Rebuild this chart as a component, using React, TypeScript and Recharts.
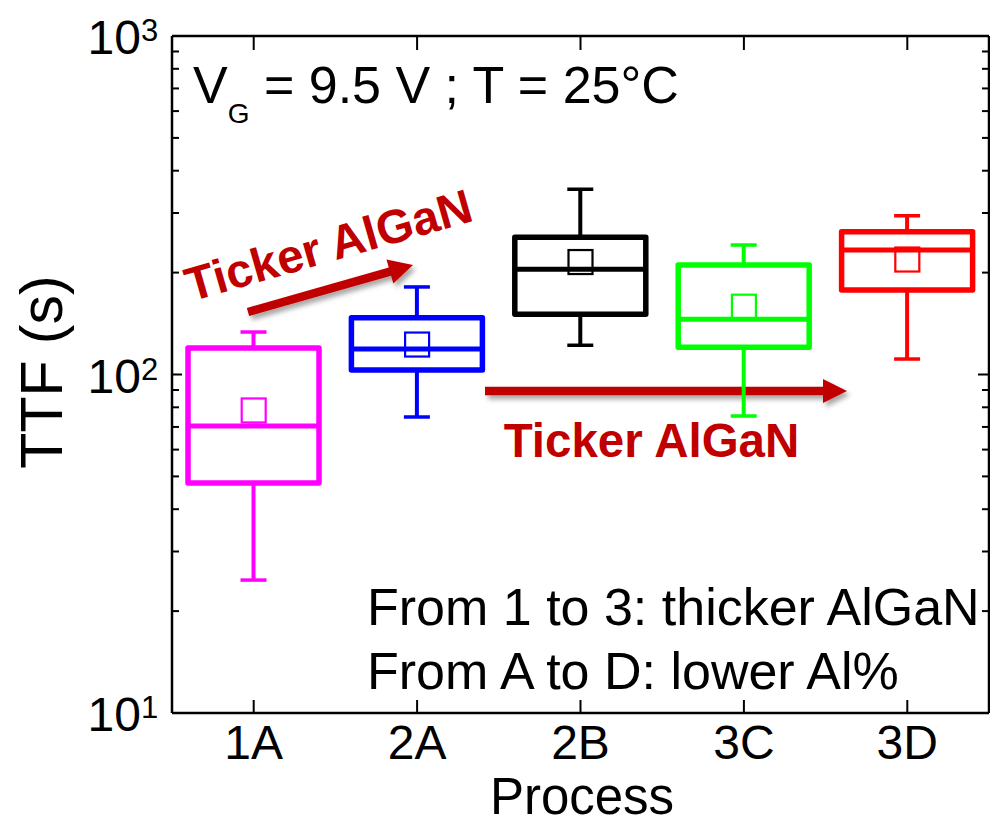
import React from 'react';
import { ComposedChart, Bar, Scatter, XAxis, YAxis, Customized } from 'recharts';

// Time-to-failure distribution per process (seconds)
const processes = ['1A', '2A', '2B', '3C', '3D'];
const whiskerLow = [24.7, 74.9, 122.0, 75.4, 111.1];
const quartile1 = [47.8, 103.1, 150.6, 120.3, 177.7];
const medians = [70.5, 119.0, 204.6, 145.6, 233.2];
const quartile3 = [119.8, 147.0, 254.3, 210.6, 264.2];
const whiskerHigh = [133.5, 181.4, 352.4, 241.3, 294.5];
const means = [78.3, 122.6, 214.9, 158.6, 218.6];
const boxColors = ['#ff00ff', '#0000ff', '#000000', '#00ff00', '#ff0000'];

const yTicks = [
  10, 20, 30, 40, 50, 60, 70, 80, 90,
  100, 200, 300, 400, 500, 600, 700, 800, 900,
  1000,
];

const FONT = '"Liberation Sans", Arial, Helvetica, sans-serif';
const ARROW_RED = '#c00000';
const BOX_WIDTH = 131;

const rows = processes.map((name, i) => ({
  name,
  whisker: [whiskerLow[i], whiskerHigh[i]],
  box: [quartile1[i], quartile3[i]],
  median: medians[i],
  mean: means[i],
  color: boxColors[i],
}));

const isDecade = (v: number) => {
  const e = Math.log10(v);
  return Math.abs(e - Math.round(e)) < 1e-6;
};

const LeftTick = (props: any) => {
  const { x, y, payload } = props;
  const v = payload.value;
  const major = isDecade(v);
  return (
    <g>
      <line x1={x} x2={x + (major ? 10 : 7)} y1={y} y2={y} stroke="#000" strokeWidth={2} />
      {major && (
        <text x={x - 31} y={y + 18} textAnchor="end" fontSize={48} fontFamily={FONT} fill="#000">
          10
        </text>
      )}
      {major && (
        <text x={x - 31} y={y + 5} textAnchor="start" fontSize={31} fontFamily={FONT} fill="#000">
          {Math.round(Math.log10(v))}
        </text>
      )}
    </g>
  );
};

const RightTick = (props: any) => {
  const { x, y, payload } = props;
  const major = isDecade(payload.value);
  return <line x1={x} x2={x - (major ? 11 : 7)} y1={y} y2={y} stroke="#000" strokeWidth={2} />;
};

const BottomTick = (props: any) => {
  const { x, y, payload } = props;
  return (
    <g>
      <line x1={x} x2={x} y1={y} y2={y - 13} stroke="#000" strokeWidth={2} />
      <text x={x} y={y + 46} textAnchor="middle" fontSize={48} fontFamily={FONT} fill="#000">
        {payload.value}
      </text>
    </g>
  );
};

const TopTick = (props: any) => {
  const { x, y } = props;
  return <line x1={x} x2={x} y1={y} y2={y + 14} stroke="#000" strokeWidth={2} />;
};

const WhiskerShape = (props: any) => {
  const { x, y, width, height, payload } = props;
  const cx = x + width / 2;
  const c = payload.color;
  return (
    <g>
      <line x1={cx} x2={cx} y1={y} y2={y + height} stroke={c} strokeWidth={4} />
      <line x1={cx - 13} x2={cx + 13} y1={y} y2={y} stroke={c} strokeWidth={3.5} />
      <line x1={cx - 13} x2={cx + 13} y1={y + height} y2={y + height} stroke={c} strokeWidth={3.5} />
    </g>
  );
};

const BoxShape = (props: any) => {
  const { x, y, width, height, payload } = props;
  return (
    <rect
      x={x}
      y={y}
      width={width}
      height={height}
      fill="#fff"
      stroke={payload.color}
      strokeWidth={5.5}
      strokeLinejoin="round"
    />
  );
};

const MedianShape = (props: any) => {
  const { cx, cy, payload } = props;
  return (
    <line
      x1={cx - BOX_WIDTH / 2}
      x2={cx + BOX_WIDTH / 2}
      y1={cy}
      y2={cy}
      stroke={payload.color}
      strokeWidth={5}
    />
  );
};

const MeanShape = (props: any) => {
  const { cx, cy, payload } = props;
  return (
    <rect x={cx - 12} y={cy - 12} width={24} height={24} fill="none" stroke={payload.color} strokeWidth={2.2} />
  );
};

// Polygon outline for a block arrow from (x1,y1) to the tip (x2,y2)
function arrowPoints(x1: number, y1: number, x2: number, y2: number, shaft: number, headLen: number, headHalf: number) {
  const dx = x2 - x1;
  const dy = y2 - y1;
  const len = Math.hypot(dx, dy);
  const ux = dx / len;
  const uy = dy / len;
  const nx = -uy;
  const ny = ux;
  const bx = x2 - ux * headLen;
  const by = y2 - uy * headLen;
  const s = shaft / 2;
  const pts = [
    [x1 + nx * s, y1 + ny * s],
    [bx + nx * s, by + ny * s],
    [bx + nx * headHalf, by + ny * headHalf],
    [x2, y2],
    [bx - nx * headHalf, by - ny * headHalf],
    [bx - nx * s, by - ny * s],
    [x1 - nx * s, y1 - ny * s],
  ];
  return pts.map((p) => `${p[0].toFixed(1)},${p[1].toFixed(1)}`).join(' ');
}

const Annotations = () => (
  <g>
    <defs>
      <filter id="arrowShadow" x="-20%" y="-50%" width="140%" height="250%">
        <feDropShadow dx="3" dy="4" stdDeviation="2.5" floodColor="#000" floodOpacity="0.35" />
      </filter>
    </defs>

    {/* bias condition */}
    <text x={193} y={103} fontSize={52} fontFamily={FONT} fill="#000">
      V
      <tspan dy={20} fontSize={28}>G</tspan>
      <tspan dy={-20} fontSize={52}>{' = 9.5 V ; T = 25°C'}</tspan>
    </text>

    {/* process legend notes */}
    <text x={367} y={625} fontSize={52} fontFamily={FONT} fill="#000">
      From 1 to 3: thicker AlGaN
    </text>
    <text x={367} y={689} fontSize={52} fontFamily={FONT} fill="#000">
      From A to D: lower Al%
    </text>

    {/* arrows */}
    <polygon points={arrowPoints(248, 312, 413, 265, 8.5, 24, 12.5)} fill={ARROW_RED} filter="url(#arrowShadow)" />
    <text
      x={333}
      y={261}
      textAnchor="middle"
      fontSize={47.5}
      fontWeight="bold"
      fontFamily={FONT}
      fill={ARROW_RED}
      transform="rotate(-16 333 261)"
    >
      Ticker AlGaN
    </text>

    <polygon points={arrowPoints(485, 391, 847, 391, 8.5, 24, 12)} fill={ARROW_RED} filter="url(#arrowShadow)" />
    <text x={651.5} y={457} textAnchor="middle" fontSize={47.5} fontWeight="bold" fontFamily={FONT} fill={ARROW_RED}>
      Ticker AlGaN
    </text>

    {/* axis titles */}
    <text x={582} y={814} textAnchor="middle" fontSize={51} fontFamily={FONT} fill="#000">
      Process
    </text>
    <text
      x={62}
      y={372}
      textAnchor="middle"
      fontSize={59}
      fontFamily={FONT}
      fill="#000"
      transform="rotate(-90 62 372)"
    >
      TTF (s)
    </text>
  </g>
);

const axisLine = { stroke: '#000', strokeWidth: 2.5 };

export default function App() {
  return (
    <div style={{ position: 'absolute', left: 0, top: 0, width: 990, height: 826, background: '#fff' }}>
      <ComposedChart width={990} height={826} data={rows} margin={{ top: 35, right: 0, bottom: 0, left: 0 }}>
        <XAxis
          xAxisId="bottom"
          dataKey="name"
          height={113}
          interval={0}
          tickSize={0}
          tickMargin={0}
          tickLine={false}
          axisLine={axisLine}
          tick={BottomTick}
        />
        <XAxis
          xAxisId="top"
          dataKey="name"
          orientation="top"
          height={1}
          interval={0}
          tickSize={0}
          tickMargin={0}
          tickLine={false}
          axisLine={axisLine}
          tick={TopTick}
        />
        <YAxis
          yAxisId="left"
          type="number"
          scale="log"
          domain={[10, 1000]}
          allowDataOverflow
          ticks={yTicks}
          interval={0}
          width={172}
          tickSize={0}
          tickMargin={0}
          tickLine={false}
          axisLine={axisLine}
          tick={LeftTick}
        />
        <YAxis
          yAxisId="right"
          orientation="right"
          type="number"
          scale="log"
          domain={[10, 1000]}
          allowDataOverflow
          ticks={yTicks}
          interval={0}
          width={1}
          tickSize={0}
          tickMargin={0}
          tickLine={false}
          axisLine={axisLine}
          tick={RightTick}
        />
        <Bar
          xAxisId="top"
          yAxisId="left"
          dataKey="whisker"
          barSize={BOX_WIDTH}
          shape={WhiskerShape}
          isAnimationActive={false}
        />
        <Bar
          xAxisId="bottom"
          yAxisId="left"
          dataKey="box"
          barSize={BOX_WIDTH}
          shape={BoxShape}
          isAnimationActive={false}
        />
        <Scatter xAxisId="bottom" yAxisId="left" dataKey="median" shape={MedianShape} isAnimationActive={false} />
        <Scatter xAxisId="bottom" yAxisId="left" dataKey="mean" shape={MeanShape} isAnimationActive={false} />
        <Customized component={Annotations} />
      </ComposedChart>
    </div>
  );
}
